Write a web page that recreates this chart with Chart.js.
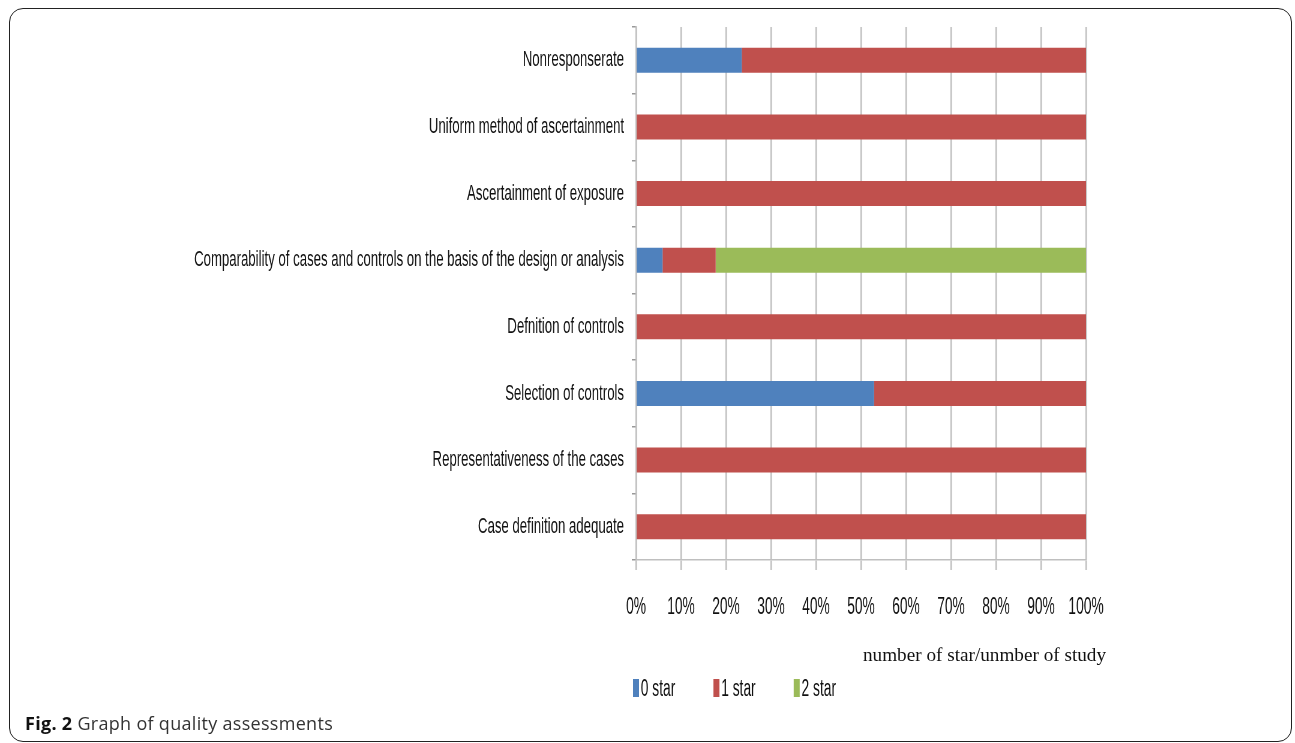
<!DOCTYPE html>
<html lang="en">
<head>
<meta charset="UTF-8"/>
<title>Graph of quality assessments</title>
<script src="https://cdn.jsdelivr.net/npm/chart.js"></script>
<style>
  html, body { margin:0; padding:0; background:#fff; width:1295px; height:743px; overflow:hidden; }
  .frame { position:absolute; left:9px; top:8px; width:1283px; height:734px; box-sizing:border-box; border:1.5px solid #222; border-radius:14px; }
  /* chart drawn wide, then squeezed horizontally to get the narrow lettering */
  #wrap { position:absolute; left:0; top:0; width:2158px; height:720px; transform:scaleX(0.6); transform-origin:0 0; }
  #chart { position:absolute; left:0; top:0; }
  .legend { position:absolute; left:1055px; top:679px; display:flex; font-family:'Liberation Sans',Arial,sans-serif; font-size:23px; color:#111; }
  .legend span { display:flex; align-items:center; width:134px; height:18px; }
  .legend i { display:inline-block; width:10px; height:18px; margin-right:3px; }
  .axis-title { position:absolute; left:863px; top:644px; font-family:'Liberation Serif','Times New Roman',serif; font-size:19.2px; color:#111; white-space:nowrap; }
  .caption { position:absolute; left:25px; top:711px; font-family:'Open Sans',sans-serif; font-size:18px; letter-spacing:0.3px; color:#333; white-space:nowrap; }
  .caption b { color:#111; }
</style>
</head>
<body>
<div class="frame"></div>
<div id="wrap">
  <canvas id="chart" width="2158" height="640"></canvas>
  <div class="legend" id="legend"></div>
</div>
<div class="axis-title">number of star/unmber of study</div>
<div class="caption"><b>Fig. 2</b> Graph of quality assessments</div>

<script>
  // criteria, top to bottom
  const criteria = [
    'Nonresponserate',
    'Uniform method of ascertainment',
    'Ascertainment of exposure',
    'Comparability of cases and controls on the basis of the design or analysis',
    'Defnition of controls',
    'Selection of controls',
    'Representativeness of the cases',
    'Case definition adequate'
  ];

  // share of studies (%) per star count
  const zeroStar = [23.5, 0, 0, 5.9, 0, 52.9, 0, 0];
  const oneStar  = [76.5, 100, 100, 11.8, 100, 47.1, 100, 100];
  const twoStar  = [0, 0, 0, 82.4, 0, 0, 0, 0];

  const seriesNames = ['0 star', '1 star', '2 star'];
  const seriesColors = ['#4F81BD', '#C0504D', '#9BBB59'];
  const xTicks = [0, 10, 20, 30, 40, 50, 60, 70, 80, 90, 100];

  const sans = "'Liberation Sans', Arial, sans-serif";

  const datasets = [zeroStar, oneStar, twoStar].map((d, i) => ({
    label: seriesNames[i],
    data: d,
    backgroundColor: seriesColors[i],
    borderWidth: 0,
    categoryPercentage: 1,
    barPercentage: 0.375
  }));

  new Chart(document.getElementById('chart'), {
    type: 'bar',
    data: { labels: criteria, datasets },
    options: {
      indexAxis: 'y',
      responsive: false,
      animation: false,
      layout: { padding: { top: 27, right: 348, bottom: 0, left: 0 } },
      plugins: { legend: { display: false }, tooltip: { enabled: false } },
      scales: {
        x: {
          stacked: true,
          min: 0,
          max: 100,
          afterBuildTicks: s => { s.ticks = xTicks.map(v => ({ value: v })); },
          afterFit: s => { s.height = 80; },
          grid: { color: '#bfbfbf', lineWidth: 2.5, tickLength: 10 },
          border: { color: '#bfbfbf', width: 1.5 },
          ticks: {
            padding: 24,
            color: '#111',
            maxRotation: 0,
            autoSkip: false,
            font: { family: sans, size: 23 },
            callback: v => v + '%'
          }
        },
        y: {
          stacked: true,
          afterFit: s => { s.width = 1060; },
          grid: { offset: true, drawOnChartArea: false, color: '#999', lineWidth: 1.5, tickLength: 7 },
          border: { color: '#bfbfbf', width: 2.5 },
          ticks: {
            padding: 13,
            color: '#111',
            font: { family: sans, size: 22 }
          }
        }
      }
    }
  });

  // legend
  document.getElementById('legend').innerHTML = seriesNames
    .map((n, i) => `<span><i style="background:${seriesColors[i]}"></i>${n}</span>`)
    .join('');
</script>
</body>
</html>
